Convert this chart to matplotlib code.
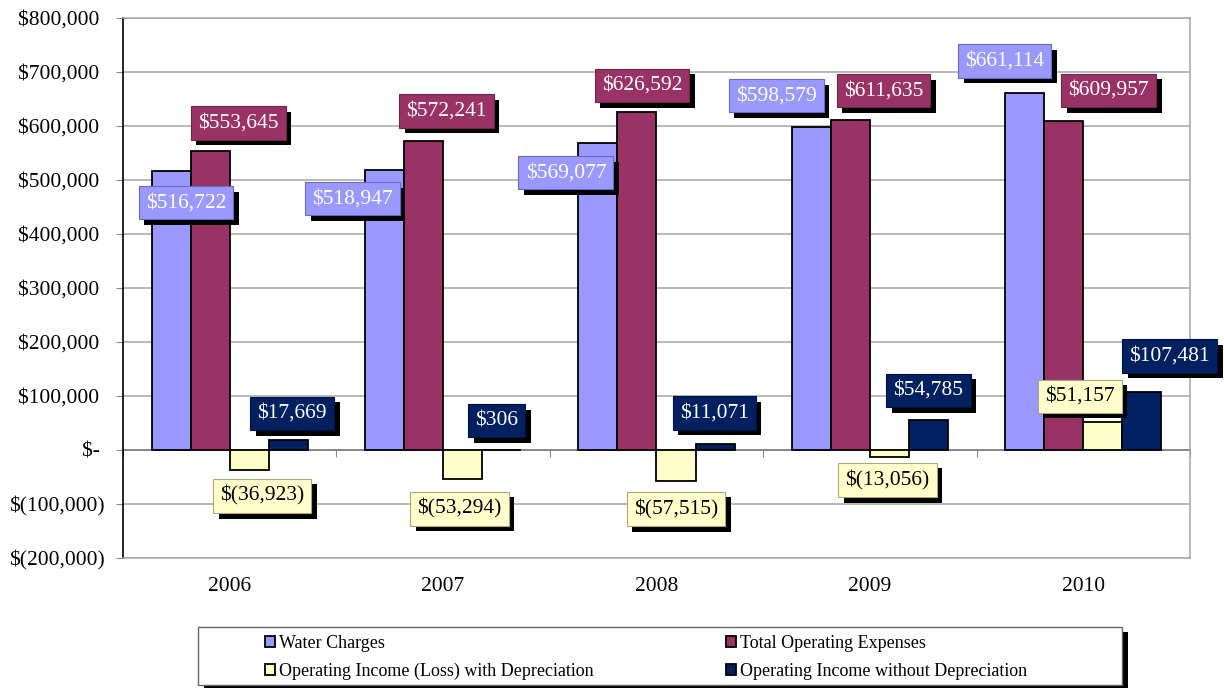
import matplotlib
matplotlib.use("Agg")
import matplotlib.pyplot as plt
import matplotlib.patheffects as pe
from matplotlib.patches import Rectangle
import numpy as np

plt.rcParams['font.family'] = ['Liberation Serif', 'DejaVu Serif']

years = ['2006', '2007', '2008', '2009', '2010']
series_names = ['Water Charges', 'Total Operating Expenses',
                'Operating Income (Loss) with Depreciation',
                'Operating Income without Depreciation']
water = [516722, 518947, 569077, 598579, 661114]
expenses = [553645, 572241, 626592, 611635, 609957]
income_dep = [-36923, -53294, -57515, -13056, 51157]
income_nodep = [17669, 306, 11071, 54785, 107481]

colors = ['#9999FF', '#993366', '#FFFFCC', '#002060']
text_colors = ['white', 'white', 'black', 'white']
box_edges = ['#6A6AC0', '#6A2848', '#A8A880', '#001040']

# label offsets from bar end, in pixels (dx right, dy up)
offsets = [
    [(15, -32), (-32, -29), (-32, -30), (-35, 31), (-20, 32)],
    [(28, 28), (23, 30), (5, 26), (33, 29), (45, 30)],
    [(13, -26), (-3, -30), (0, -28), (-2, -23), (-23, 26)],
    [(4, 27), (-5, 29), (-1, 31), (0, 30), (28, 36)],
]


def money(v):
    if v < 0:
        return '$({:,})'.format(-v)
    if v == 0:
        return '$-'
    return '${:,}'.format(v)


def tick_money(v):
    # accounting style: positives leave room for the closing bracket
    s = money(v)
    return s if v < 0 else s + ' '


fig = plt.figure(figsize=(12.24, 6.88), dpi=100)
ax = fig.add_axes([0.1005, 0.189, 0.8717, 0.785])

x = np.arange(len(years))
w = 0.183
data = [water, expenses, income_dep, income_nodep]
for i, vals in enumerate(data):
    pos = x + (i - 1.5) * w
    ax.bar(pos, vals, w, color=colors[i], edgecolor='black', linewidth=1.3,
           zorder=3, label=series_names[i])
    for j, v in enumerate(vals):
        dx, dy = offsets[i][j]
        t = ax.annotate(money(v), (pos[j], v), xytext=(dx, dy),
                        textcoords='offset pixels', ha='center', va='center',
                        fontsize=15.5, color=text_colors[i], zorder=5,
                        bbox=dict(boxstyle='square,pad=0.33', fc=colors[i],
                                  ec=box_edges[i], lw=0.8))
        t.get_bbox_patch().set_path_effects([
            pe.SimplePatchShadow(offset=(4, -4), shadow_rgbFace='black', alpha=1),
            pe.Normal()])

ax.set_xlim(-0.5, len(years) - 0.5)
ax.set_ylim(-200000, 800000)
yt = np.arange(-200000, 800001, 100000)
ax.set_yticks(yt)
ax.set_yticklabels([tick_money(int(v)) for v in yt], fontsize=15.5)
ax.yaxis.grid(True, color='#A6A6A6', linewidth=1.1, zorder=0)
ax.tick_params(axis='y', length=5, color='#888888', pad=8)

ax.set_xticks(x)
ax.set_xticklabels(years, fontsize=15.5)
ax.tick_params(axis='x', length=0, pad=14)

for s in ['top', 'right', 'bottom']:
    ax.spines[s].set_color('#A6A6A6')
    ax.spines[s].set_linewidth(1.1)
ax.spines['left'].set_color('black')
ax.spines['left'].set_linewidth(1.2)

# zero axis with category separator ticks
sec = ax.secondary_xaxis(0.2)
sec.set_xticks(np.arange(-0.5, len(years), 1.0))
sec.set_xticklabels([])
sec.tick_params(axis='x', length=5, color='#888888', direction='out')
sec.spines['bottom'].set_color('black')
sec.spines['bottom'].set_linewidth(1.2)

# legend frame with shadow
frame = Rectangle((0.162, 0.004), 0.755, 0.085, transform=fig.transFigure,
                  fc='white', ec='#666666', lw=1.0, zorder=1)
frame.set_path_effects([
    pe.SimplePatchShadow(offset=(4, -4), shadow_rgbFace='black', alpha=1),
    pe.Normal()])
fig.patches.append(frame)

handles, labels = ax.get_legend_handles_labels()
order = [0, 2, 1, 3]
leg = fig.legend([handles[k] for k in order], [labels[k] for k in order],
                 loc='center left', bbox_to_anchor=(0.2165, 0.0445), ncol=2,
                 frameon=False, fontsize=13, handlelength=0.55,
                 handleheight=0.55, handletextpad=0.25, columnspacing=7.3,
                 labelspacing=0.62, borderaxespad=0, borderpad=0)
for h in leg.legend_handles:
    h.set_linewidth(1.3)

fig.savefig('out.png', dpi=100)
